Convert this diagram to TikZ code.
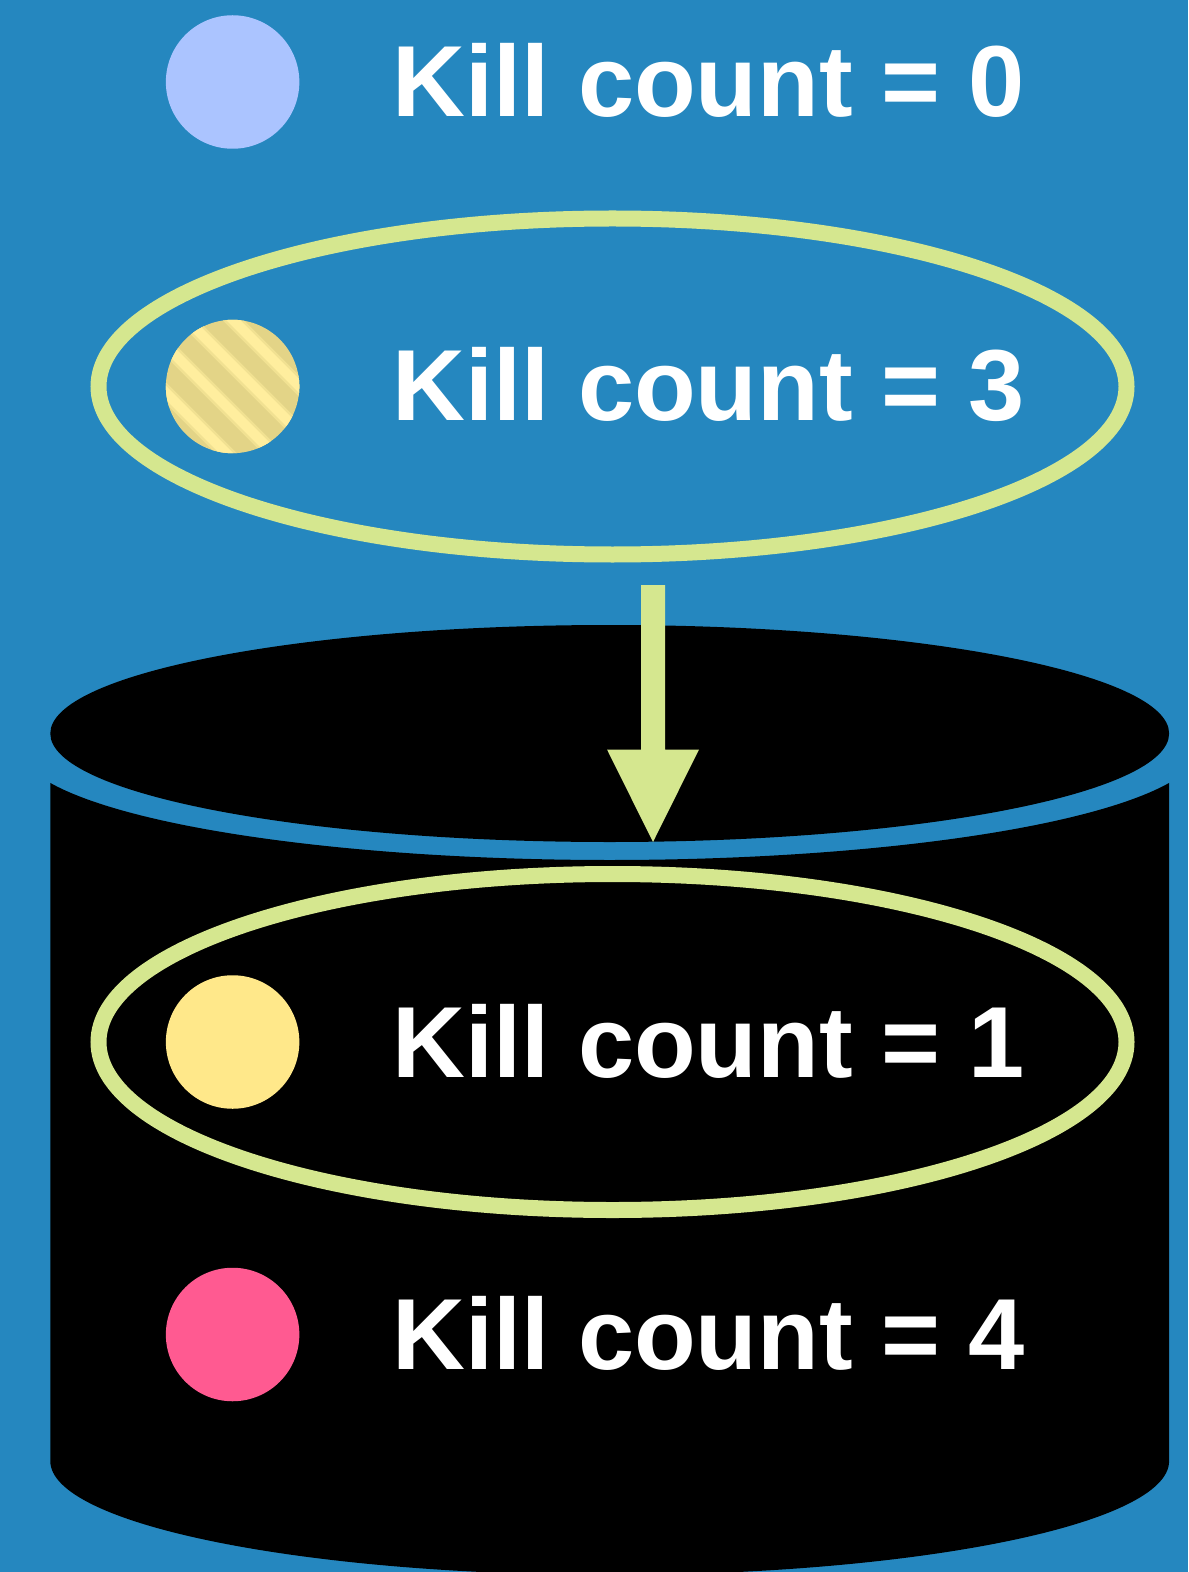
\documentclass[tikz,border=0pt]{standalone}
\usepackage{fontspec}
\setmainfont{Liberation Sans}
\definecolor{bgblue}{HTML}{2587BF}
\definecolor{lime}{HTML}{D5E78F}
\definecolor{cblue}{HTML}{ABC4FF}
\definecolor{cyellow}{HTML}{FFE88A}
\definecolor{cstripe}{HTML}{FFEE9E}
\definecolor{cmid}{HTML}{F1E192}
\definecolor{ctan}{HTML}{E3D487}
\definecolor{cpink}{HTML}{FF5A91}
\tikzset{
  dot/.style={circle,minimum size=133.5*0.5pt,inner sep=0pt,outer sep=0pt},
  kill/.style={anchor=base west,text=white,inner sep=0pt,font=\fontsize{50.5pt}{50.5pt}\selectfont\bfseries},
  ring/.style={draw=lime,line width=8pt,ellipse,minimum width=1028*0.5pt,minimum height=336*0.5pt,inner sep=0pt,outer sep=0pt},
  drum/.style={fill=black,draw=none}
}
\usetikzlibrary{shapes.geometric}
\begin{document}
\begin{tikzpicture}[x=0.5pt,y=-0.5pt]
\useasboundingbox (0,0) rectangle (1188,1572);
\fill[bgblue] (0,0) rectangle (1188,1572);
% cylinder
\begin{scope}
\clip (0,0) rectangle (1188,1572);
\fill[drum] (609.7,733.5) ellipse [x radius=559.4,y radius=108.5];
\fill[drum] plot[domain=-559.4:559.4,samples=161] ({\x+609.7},{745.5+114.5*sqrt(1-(\x/592)*(\x/592))})
  -- (1169.1,1461) arc[start angle=0,end angle=180,x radius=559.4,y radius=114] -- cycle;
\end{scope}
% circles
\node[dot,fill=cblue] (c0) at (232.6,82) {};
\node[dot,fill=cyellow] (c1) at (232.6,1042) {};
\node[dot,fill=cpink] (c4) at (232.6,1334.5) {};
\node[dot] (c3) at (232.6,386.5) {};
\begin{scope}
\clip (232.6,386.5) circle [radius=66.7];
\fill[ctan] (150,300) rectangle (320,470);
\foreach \d in {67,21,-26,-73}{
  \draw[cmid,line width=7.5pt] ({232.6+\d/2-120},{386.5-\d/2-120}) -- ({232.6+\d/2+120},{386.5-\d/2+120});
  \draw[cstripe,line width=5pt] ({232.6+\d/2-120},{386.5-\d/2-120}) -- ({232.6+\d/2+120},{386.5-\d/2+120});
}
\end{scope}
% texts
\node[kill] (t0) at (392.5,117) {Kill count = 0};
\node[kill] (t3) at (392.5,421) {Kill count = 3};
\node[kill] (t1) at (392.5,1077) {Kill count = 1};
\node[kill] (t4) at (392.5,1369) {Kill count = 4};
% rings
\node[ring] (r3) at (612.5,386.5) {};
\node[ring] (r1) at (612.5,1042) {};
% arrow
\coordinate (as) at (653,585);
\coordinate (ae) at (653,842);
\fill[lime] (as) ++(-12,0) -- ++(24,0) -- (665,749.5) -- (699,749.5) -- (ae) -- (607,749.5) -- (641,749.5) -- cycle;
\end{tikzpicture}
\end{document}
